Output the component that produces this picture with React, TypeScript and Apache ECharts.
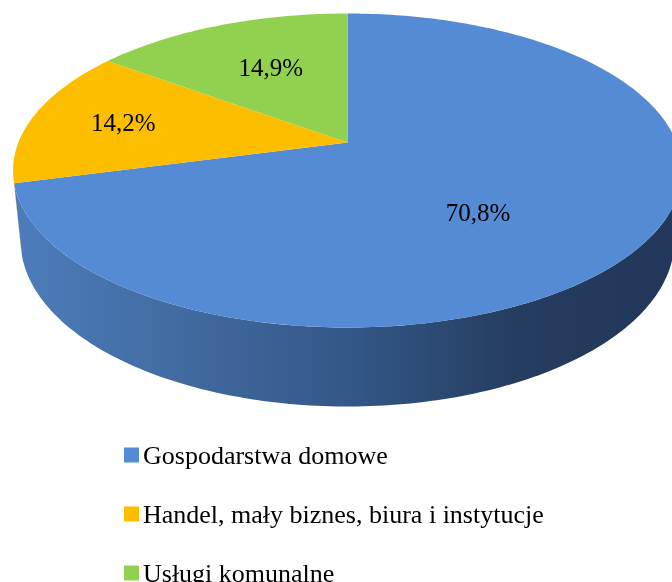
import { useEffect, useRef } from "react";
import * as echarts from "echarts";

// ---- data ----
const categories = [
  "Gospodarstwa domowe",
  "Handel, mały biznes, biura i instytucje",
  "Usługi komunalne",
];
const values = [70.8, 14.2, 14.9];

// ---- styles ----
const FAMILY = "Liberation Serif";
const topColors = ["#558BD4", "#FDBE00", "#92D050"];
const wallStops = [
  ["#4c7dbb", "#3f679c", "#335888", "#253d60", "#22375a"],
  ["#c99a00", "#b38800", "#9c7600", "#7f6000", "#7a5c00"],
  ["#74a83e", "#679634", "#5a832c", "#4a6c24", "#466622"],
];
// label placement: [radius fraction, fraction along slice]
const labelPlace = [
  [0.56, 0.545],
  [0.71, 0.5],
  [0.6, 0.53],
];
const legendX = 124;
const legendY0 = 455;
const legendStep = 59;

// projection model of a tilted disc with perspective
const CX = 347.5;
const CY = 142.5;
const F = 1637;
const U = 4.974;
const SA = 0.4619;
const CA = 0.8869;
const H = 0.2428;

function proj(x: number, y: number, z: number): number[] {
  const yc = y * CA + z * SA;
  const zc = z * CA - y * SA;
  const w = U + zc;
  return [CX + (F * x) / w, CY - (F * yc) / w];
}

function rim(phiDeg: number, y: number, r = 1): number[] {
  const p = (phiDeg * Math.PI) / 180;
  return proj(r * Math.sin(p), y, r * Math.cos(p));
}

const total = values.reduce((a, b) => a + b, 0);
const visLimit = (Math.acos(-1 / (CA * U)) * 180) / Math.PI;

function sliceAngles(i: number) {
  let cum = 0;
  for (let k = 0; k < i; k++) cum += values[k];
  return [(cum / total) * 360, ((cum + values[i]) / total) * 360];
}

function fmt(v: number) {
  return v.toFixed(1).replace(".", ",") + "%";
}

function measure(text: string, size: number) {
  const ctx = document.createElement("canvas").getContext("2d");
  if (!ctx) return text.length * size * 0.5;
  ctx.font = size + "px '" + FAMILY + "'";
  return ctx.measureText(text).width;
}

function makeRenderItem(i: number) {
  return () => {
    const [start, end] = sliceAngles(i);
    const children: any[] = [];

    const a = Math.max(start, visLimit);
    const b = Math.min(end, 360 - visLimit);
    if (a < b) {
      const pts: number[][] = [];
      const n = Math.max(2, Math.ceil(b - a));
      for (let k = 0; k <= n; k++) pts.push(rim(a + ((b - a) * k) / n, 0));
      for (let k = n; k >= 0; k--) pts.push(rim(a + ((b - a) * k) / n, -H));
      const st = wallStops[i];
      children.push({
        type: "polygon",
        shape: { points: pts },
        style: {
          fill: {
            type: "linear",
            x: 13,
            y: 0,
            x2: 682,
            y2: 0,
            global: true,
            colorStops: [
              { offset: 0, color: st[0] },
              { offset: 0.3, color: st[1] },
              { offset: 0.5, color: st[2] },
              { offset: 0.75, color: st[3] },
              { offset: 1, color: st[4] },
            ],
          },
        },
        silent: true,
      });
    }

    const tp: number[][] = [proj(0, 0, 0)];
    const m = Math.max(2, Math.ceil(end - start));
    for (let k = 0; k <= m; k++) tp.push(rim(start + ((end - start) * k) / m, 0));
    children.push({
      type: "polygon",
      shape: { points: tp },
      style: { fill: topColors[i] },
      silent: true,
    });

    return { type: "group", children };
  };
}

export default function App() {
  const ref = useRef<HTMLDivElement>(null);
  useEffect(() => {
    if (!ref.current) return;
    const chart = echarts.init(ref.current, undefined, { renderer: "svg" });
    const els: any[] = [];
    // slice labels
    values.forEach((v, i) => {
      const [start, end] = sliceAngles(i);
      const [lr, lf] = labelPlace[i];
      const lp = rim(start + (end - start) * lf, 0, lr);
      const t = fmt(v);
      const w = measure(t, 25);
      els.push({
        type: "text",
        x: lp[0] - w / 2,
        y: lp[1] - 12.5,
        z: 10,
        style: { text: t, fontFamily: FAMILY, fontSize: 25, fill: "#000" },
      });
    });
    // legend
    categories.forEach((c, i) => {
      const y = legendY0 + legendStep * i;
      els.push({
        type: "rect",
        shape: { x: legendX, y: y - 7.5, width: 15, height: 15 },
        style: { fill: topColors[i] },
      });
      els.push({
        type: "text",
        x: legendX + 19,
        y: y - 13,
        style: { text: c, fontFamily: FAMILY, fontSize: 26, fill: "#000" },
      });
    });
    chart.setOption({
      animation: false,
      graphic: { elements: els },
      series: categories.map((c, i) => ({
        type: "custom",
        name: c,
        coordinateSystem: "none",
        z: 1,
        itemStyle: { color: topColors[i] },
        renderItem: makeRenderItem(i),
        data: [values[i]],
      })),
    });
    return () => chart.dispose();
  }, []);
  return (
    <div
      ref={ref}
      style={{ position: "fixed", left: 0, top: 0, width: 672, height: 582 }}
    />
  );
}
